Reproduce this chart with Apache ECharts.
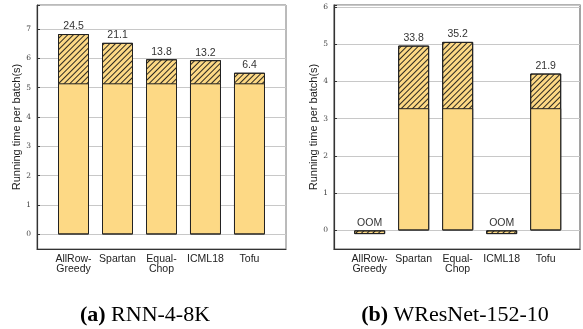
<!DOCTYPE html>
<html>
<head>
<meta charset="utf-8">
<script src="https://cdn.jsdelivr.net/npm/echarts@6/dist/echarts.min.js"></script>
<style>
html,body{margin:0;padding:0;background:#fff;}
#chart{width:583px;height:329px;}
</style>
</head>
<body>
<div id="chart"></div>
<script>
const categories = ['AllRow-\nGreedy', 'Spartan', 'Equal-\nChop', 'ICML18', 'Tofu'];
const rnnBase = [5.15, 5.15, 5.15, 5.15, 5.15];
const rnnTotal = [6.83, 6.53, 5.97, 5.94, 5.51];
const rnnLabels = ['24.5', '21.1', '13.8', '13.2', '6.4'];
const wresBase = [null, 3.28, 3.28, null, 3.28];
const wresTotal = [-0.1, 4.96, 5.06, -0.1, 4.21];
const wresLabels = ['OOM', '33.8', '35.2', 'OOM', '21.9'];
const captionA = 'RNN-4-8K';
const captionB = 'WResNet-152-10';

const FILL = '#FDD985';
const sans = 'Liberation Sans';

function pairs(arr) { return arr.map((v, i) => [i, v]); }

function xAxisOpt(gi, min, max) {
  return {
    type: 'value', gridIndex: gi, min: min, max: max,
    minInterval: 1, maxInterval: 1,
    axisLine: { show: true, onZero: false, lineStyle: { color: '#333', width: 1.2 } },
    axisTick: { show: false },
    splitLine: { show: false },
    axisLabel: {
      color: '#222', fontFamily: sans, fontSize: 10.5, lineHeight: 10, margin: 5,
      formatter: v => (Number.isInteger(v) && categories[v] !== undefined) ? categories[v] : ''
    }
  };
}
function yAxisOpt(gi, min, max) {
  return {
    type: 'value', gridIndex: gi, min: min, max: max,
    minInterval: 1, maxInterval: 1,
    name: 'Running time per batch(s)', nameLocation: 'middle', nameGap: 12,
    nameTextStyle: { fontFamily: sans, fontSize: 11, color: '#222' },
    axisLine: { show: true, onZero: false, lineStyle: { color: '#333', width: 1.2 } },
    axisTick: { show: true, inside: true, length: 3, lineStyle: { color: '#333' } },
    splitLine: { show: true, lineStyle: { color: '#c8c8c8', width: 1 } },
    axisLabel: {
      color: '#444', fontFamily: 'DejaVu Serif', fontSize: 7.5, margin: 6,
      formatter: v => Number.isInteger(v) ? String(v) : ''
    }
  };
}
const decal = {
  symbol: 'rect', symbolSize: 1,
  dashArrayX: [1, 0], dashArrayY: [1, 3],
  rotation: -Math.PI / 4, color: 'rgba(20,20,20,0.9)'
};
function totalSeries(gi, data, labels) {
  return {
    type: 'bar', xAxisIndex: gi, yAxisIndex: gi, barWidth: 31,
    data: pairs(data),
    itemStyle: { color: FILL, borderColor: '#222', borderWidth: 1, decal: decal },
    label: {
      show: true, position: 'top', distance: 2,
      fontFamily: sans, fontSize: 10.5, color: '#333',
      formatter: p => labels[p.dataIndex]
    },
    z: 2
  };
}
function baseSeries(gi, data) {
  return {
    type: 'bar', xAxisIndex: gi, yAxisIndex: gi, barWidth: 31, barGap: '-100%',
    data: pairs(data),
    itemStyle: { color: FILL, borderColor: '#222', borderWidth: 1 },
    z: 3
  };
}
function caption(tag, text, cx) {
  return {
    text: '{b|' + tag + '} ' + text, left: cx, top: 299, textAlign: 'center',
    textStyle: { fontFamily: 'Liberation Serif', fontSize: 22, fontWeight: 'normal', color: '#000',
      rich: { b: { fontFamily: 'Liberation Serif', fontSize: 22, fontWeight: 'bold', color: '#000' } } }
  };
}

const chart = echarts.init(document.getElementById('chart'), null, { renderer: 'canvas' });
chart.setOption({
  animation: false,
  backgroundColor: '#fff',
  title: [caption('(a)', captionA, 140), caption('(b)', captionB, 450)],
  grid: [
    { left: 37, top: 5, width: 249, height: 244, show: true, borderColor: '#777', borderWidth: 1, backgroundColor: 'transparent' },
    { left: 334, top: 5, width: 247, height: 244, show: true, borderColor: '#666', borderWidth: 1.2, backgroundColor: 'transparent' }
  ],
  xAxis: [xAxisOpt(0, -0.83, 4.83), xAxisOpt(1, -0.81, 4.78)],
  yAxis: [yAxisOpt(0, -0.5, 7.82), yAxisOpt(1, -0.5, 6.05)],
  series: [
    totalSeries(0, rnnTotal, rnnLabels),
    baseSeries(0, rnnBase),
    totalSeries(1, wresTotal, wresLabels),
    baseSeries(1, wresBase)
  ]
});
</script>
</body>
</html>
